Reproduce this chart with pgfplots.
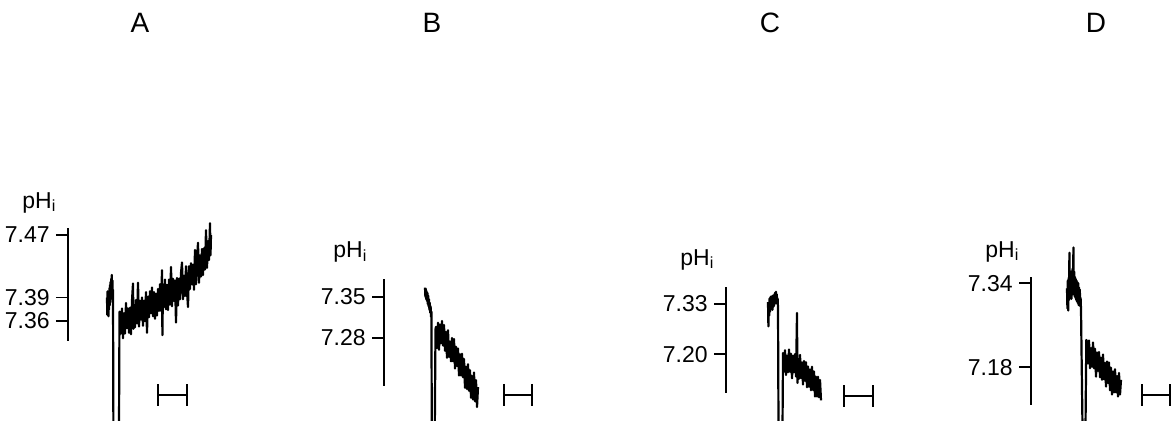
\documentclass[border=0pt]{standalone}
\usepackage{fontspec}
\setmainfont{Liberation Sans}
\usepackage{pgfplots}
\pgfplotsset{compat=1.18}
\pgfplotsset{
  trace/.style={axis x line=none, axis y line=left,
    axis line style={-, line width=0.8pt}, clip=false, x=0.5pt,
    anchor=south west, ytick align=outside, major tick length=6pt,
    every tick/.style={black, line width=0.8pt},
    yticklabel style={font=\fontsize{11.5}{12}\selectfont, inner xsep=3pt},
    enlargelimits=false},
  sig/.style={black, line width=1.1pt, mark=none, line join=round},
  bar/.style={black, line width=1pt, mark=|, mark size=5.5pt, mark options={solid, line width=1pt}},
}
\newcommand{\phfont}{\fontsize{11.5}{12}\selectfont}
\begin{document}
\begin{tikzpicture}
\path (0,0) rectangle (586pt,210.5pt);
\node[font=\fontsize{14}{14}\selectfont] at (70pt,199pt) {A};
\node[font=\fontsize{14}{14}\selectfont] at (216pt,199pt) {B};
\node[font=\fontsize{14}{14}\selectfont] at (385pt,199pt) {C};
\node[font=\fontsize{14}{14}\selectfont] at (548pt,199pt) {D};

% ---------- A ----------
\begin{axis}[trace, at={(34pt,40pt)}, xmin=68, xmax=215, ymin=7.3345, ymax=7.479, y=391pt,
  ytick={7.36,7.39,7.47}, yticklabels={7.36,7.39,7.47}]
\addplot[sig] coordinates {
(107.0,7.390)(107.3,7.368)(107.6,7.398)(107.9,7.372)(108.2,7.395)(108.5,7.366)(108.8,7.392)(109.1,7.375)
(109.4,7.402)(109.7,7.380)(110.0,7.406)(110.3,7.384)(110.6,7.410)(110.9,7.388)(111.2,7.414)(111.5,7.395)
(111.8,7.419)(112.1,7.398)(112.4,7.412)(112.7,7.390)(113.0,7.400)(113.4,7.221)(119.0,7.221)(119.5,7.372)
(120,7.372)(121,7.344)(122,7.376)(123,7.338)(124,7.370)(125,7.344)(126,7.383)(127,7.351)(128,7.376)(129,7.345)
(130,7.377)(131,7.343)(132,7.386)(133,7.408)(133.5,7.350)(134,7.376)(135,7.352)(136,7.387)(137,7.357)(138,7.409)
(139,7.353)(140,7.386)(141,7.362)(142,7.390)(143,7.354)(144,7.386)(145,7.360)(146,7.397)(147,7.345)(148,7.391)
(149,7.365)(150,7.398)(151,7.370)(152,7.403)(153,7.366)(154,7.397)(155,7.363)(156,7.395)(157,7.367)(158,7.401)
(159,7.373)(160,7.407)(161,7.373)(162,7.425)(162.4,7.342)(163,7.407)(164,7.378)(165,7.413)(166,7.375)(167,7.406)
(168,7.374)(169,7.413)(170,7.381)(171,7.429)(172,7.379)(173,7.414)(174,7.386)(175,7.412)(176,7.358)(177,7.415)
(178,7.380)(179,7.414)(180,7.388)(181,7.421)(182,7.435)(183,7.388)(184,7.418)(185,7.392)(186,7.430)(187,7.398)
(188,7.378)(189,7.430)(190,7.401)(191,7.434)(192,7.407)(193,7.432)(194,7.400)(195,7.451)(196,7.407)(197,7.438)
(198,7.460)(199,7.409)(200,7.444)(201,7.417)(202,7.452)(203,7.419)(204,7.453)(205,7.426)(206,7.476)(207,7.428)
(208,7.462)(209,7.438)(210,7.485)(210.5,7.444)(211,7.470)
};
\addplot[bar] coordinates {(158,7.2654)(187,7.2654)};
\node[anchor=base west, inner sep=0pt, font=\phfont] at (axis cs:22,7.5045) {pH\textsubscript{i}};
\end{axis}

% ---------- B ----------
\begin{axis}[trace, at={(192pt,17.5pt)}, xmin=384, xmax=540, ymin=7.198, ymax=7.381, y=293pt,
  ytick={7.28,7.35}, yticklabels={7.28,7.35}]
\addplot[sig] coordinates {
(425.0,7.366)(425.4,7.350)(425.8,7.364)(426.2,7.346)(426.6,7.360)(427.0,7.343)(427.4,7.357)(427.8,7.338)
(428.2,7.352)(428.6,7.334)(429.0,7.346)(429.4,7.328)(429.8,7.340)(430.2,7.323)(430.6,7.334)(431.0,7.316)
(431.4,7.325)(431.8,7.125)(434.8,7.125)(435.5,7.295)
(436,7.299)(437,7.263)(438,7.306)(439,7.260)(440,7.303)(441,7.271)(442,7.309)(443,7.267)(444,7.302)(445,7.258)
(446,7.290)(447,7.246)(448,7.293)(449,7.248)(450,7.274)(451,7.240)(452,7.280)(453,7.240)(454,7.278)(455,7.228)
(456,7.265)(457,7.232)(458,7.262)(459,7.216)(460,7.252)(461,7.216)(462,7.253)(463,7.213)(464,7.244)(465,7.195)
(466,7.231)(467,7.193)(468,7.235)(469,7.190)(470,7.225)(471,7.178)(472,7.215)(473,7.175)(474,7.221)(475,7.172)
(476,7.208)(477,7.162)(478,7.196)
};
\addplot[bar] coordinates {(504,7.183)(532,7.183)};
\node[anchor=base west, inner sep=0pt, font=\phfont] at (axis cs:333,7.4166) {pH\textsubscript{i}};
\end{axis}

% ---------- C ----------
\begin{axis}[trace, at={(363pt,14pt)}, xmin=726, xmax=880, ymin=7.099, ymax=7.374, y=192.5pt,
  ytick={7.20,7.33}, yticklabels={7.20,7.33}]
\addplot[sig] coordinates {
(768.0,7.335)(768.4,7.272)(768.8,7.330)(769.2,7.300)(769.6,7.345)(770.0,7.310)(770.4,7.348)(770.8,7.318)
(771.2,7.350)(771.6,7.320)(772.0,7.345)(772.4,7.315)(772.8,7.352)(773.2,7.322)(773.6,7.348)(774.0,7.325)
(774.4,7.356)(774.8,7.330)(775.2,7.360)(775.6,7.335)(776.0,7.362)(776.4,7.338)(776.8,7.355)(777.2,7.330)
(777.6,7.345)(778.0,7.320)(778.5,7.010)(782.5,7.010)(783.0,7.190)
(783,7.203)(784,7.154)(785,7.210)(786,7.146)(787,7.196)(788,7.153)(789,7.212)(790,7.154)(791,7.201)(792,7.137)
(793,7.196)(794,7.153)(795,7.200)(796,7.142)(797,7.307)(797.4,7.125)(798,7.188)(799,7.136)(800,7.198)(801,7.138)
(802,7.178)(803,7.121)(804,7.182)(805,7.131)(806,7.179)(807,7.114)(808,7.168)(809,7.115)(810,7.160)(811,7.106)
(812,7.167)(813,7.107)(814,7.155)(815,7.090)(816,7.141)(817,7.090)(818,7.141)(819,7.088)(820,7.133)(821,7.080)
};
\addplot[bar] coordinates {(844,7.091)(873,7.091)};
\node[anchor=base west, inner sep=0pt, font=\phfont] at (axis cs:680,7.4313) {pH\textsubscript{i}};
\end{axis}

% ---------- D ----------
\begin{axis}[trace, at={(515.5pt,8pt)}, xmin=1031, xmax=1172, ymin=7.108, ymax=7.351, y=262.5pt,
  ytick={7.18,7.34}, yticklabels={7.18,7.34}]
\addplot[sig] coordinates {
(1067.0,7.330)(1067.4,7.292)(1067.8,7.345)(1068.2,7.288)(1068.6,7.350)(1069.0,7.308)(1069.4,7.398)(1069.8,7.312)
(1070.2,7.358)(1070.6,7.315)(1071.0,7.362)(1071.4,7.310)(1071.8,7.355)(1072.2,7.318)(1072.6,7.368)(1073.0,7.322)
(1073.4,7.408)(1073.8,7.320)(1074.2,7.362)(1074.6,7.315)(1075.0,7.352)(1075.4,7.312)(1075.8,7.348)(1076.2,7.308)
(1076.6,7.345)(1077.0,7.305)(1077.4,7.342)(1077.8,7.302)(1078.2,7.340)(1078.6,7.298)(1079.0,7.332)(1079.4,7.300)
(1079.8,7.328)(1080.2,7.296)(1080.6,7.312)(1081.0,7.290)(1082.5,7.065)(1085.5,7.065)(1086.3,7.232)
(1087,7.228)(1088,7.187)(1089,7.231)(1090,7.178)(1091,7.216)(1092,7.181)(1093,7.227)(1094,7.178)(1095,7.215)(1096,7.162)
(1097,7.208)(1098,7.173)(1099,7.209)(1100,7.161)(1101,7.198)(1102,7.156)(1103,7.204)(1104,7.157)(1105,7.188)(1106,7.143)
(1107,7.191)(1108,7.150)(1109,7.189)(1110,7.136)(1111,7.179)(1112,7.128)(1113,7.172)(1114,7.132)(1115,7.176)(1116,7.132)
(1117,7.163)(1118,7.124)(1119,7.169)(1120,7.128)(1121,7.156)
};
\addplot[bar] coordinates {(1142,7.127)(1170,7.127)};
\node[anchor=base west, inner sep=0pt, font=\phfont] at (axis cs:985,7.3895) {pH\textsubscript{i}};
\end{axis}

\pgfresetboundingbox
\path[use as bounding box] (0,0) rectangle (586pt,210.5pt);
\end{tikzpicture}
\end{document}
